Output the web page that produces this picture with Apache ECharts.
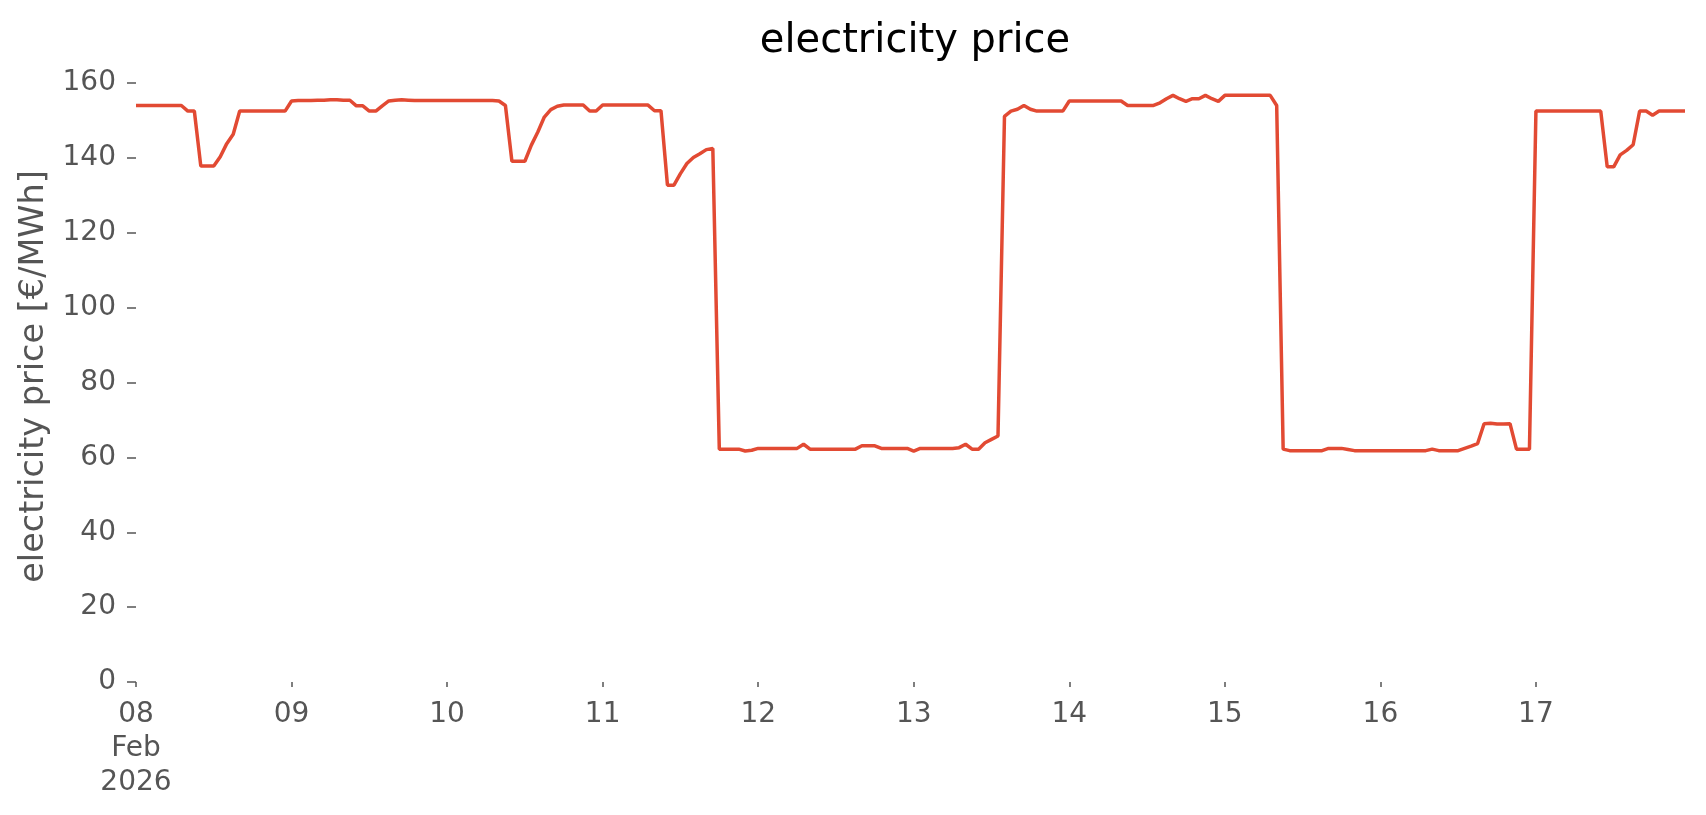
<!DOCTYPE html>
<html>
<head>
<meta charset="utf-8">
<script src="https://cdn.jsdelivr.net/npm/echarts@6/dist/echarts.min.js"></script>
<style>
  html, body { margin: 0; padding: 0; background: #ffffff; }
  #chart { width: 1706px; height: 815px; }
</style>
</head>
<body>
<div id="chart"></div>
<script>
// Hourly electricity price [€/MWh], 08 Feb 2026 00:00 .. 17 Feb 2026 23:00
const day08 = [154,154,154,154,154,154,154,154,152.5,152.5,137.8,137.8,137.8,140.3,143.8,146.3,152.5,152.5,152.5,152.5,152.5,152.5,152.5,152.5];
const day09 = [155.2,155.3,155.3,155.3,155.4,155.4,155.5,155.5,155.4,155.4,153.9,153.9,152.5,152.5,153.9,155.2,155.4,155.5,155.4,155.3,155.3,155.3,155.3,155.3];
const day10 = [155.3,155.3,155.3,155.3,155.3,155.3,155.3,155.3,155.2,154.0,139.1,139.1,139.1,143.4,146.9,150.9,152.9,153.8,154.1,154.1,154.1,154.1,152.5,152.5];
const day11 = [154.1,154.1,154.1,154.1,154.1,154.1,154.1,154.1,152.6,152.6,132.7,132.7,135.8,138.5,140.1,141.1,142.2,142.5,62.2,62.2,62.2,62.2,61.7,61.9];
const day12 = [62.4,62.4,62.4,62.4,62.4,62.4,62.4,63.5,62.2,62.2,62.2,62.2,62.2,62.2,62.2,62.2,63.1,63.1,63.1,62.4,62.4,62.4,62.4,62.4];
const day13 = [61.7,62.4,62.4,62.4,62.4,62.4,62.4,62.6,63.5,62.2,62.2,63.9,64.8,65.7,151.1,152.5,153.0,154.0,153.0,152.5,152.5,152.5,152.5,152.5];
const day14 = [155.2,155.2,155.2,155.2,155.2,155.2,155.2,155.2,155.2,154.0,154.0,154.0,154.0,154.0,154.7,155.8,156.7,155.8,155.1,155.8,155.8,156.7,155.8,155.1];
const day15 = [156.7,156.7,156.7,156.7,156.7,156.7,156.7,156.7,154.0,62.2,61.8,61.8,61.8,61.8,61.8,61.8,62.4,62.4,62.4,62.1,61.8,61.8,61.8,61.8];
const day16 = [61.8,61.8,61.8,61.8,61.8,61.8,61.8,61.8,62.2,61.8,61.8,61.8,61.8,62.4,63.0,63.7,69.0,69.1,68.9,68.9,69.0,62.2,62.2,62.2];
const day17 = [152.5,152.5,152.5,152.5,152.5,152.5,152.5,152.5,152.5,152.5,152.5,137.6,137.6,140.8,142.0,143.5,152.5,152.5,151.4,152.5,152.5,152.5,152.5,152.5];

const dayLabels = ['08\nFeb\n2026','09','10','11','12','13','14','15','16','17'];
const yTicks = [0,20,40,60,80,100,120,140,160];

const prices = [].concat(day08, day09, day10, day11, day12, day13, day14, day15, day16, day17);
const seriesData = prices.map((v, i) => [i, v]);

const chart = echarts.init(document.getElementById('chart'), null, { renderer: 'canvas' });
const FONT = 'DejaVu Sans';
chart.setOption({
  animation: false,
  backgroundColor: '#ffffff',
  title: {
    text: 'electricity price',
    left: 910,
    textAlign: 'center',
    top: 17,
    textStyle: { fontFamily: FONT, fontSize: 40, fontWeight: 'normal', color: '#000000' }
  },
  grid: { left: 136, right: 21, top: 83, bottom: 133, containLabel: false },
  xAxis: {
    type: 'value',
    min: 0,
    max: prices.length - 1,
    interval: 24,
    axisLine: { show: false },
    splitLine: { show: false },
    axisTick: { show: true, length: 5, lineStyle: { color: '#555555', width: 1.5 } },
    axisLabel: {
      margin: 16,
      color: '#555555',
      fontFamily: FONT,
      fontSize: 28,
      lineHeight: 34,
      showMaxLabel: false,
      formatter: function (v) {
        if (v % 24 !== 0) return '';
        const d = Math.round(v / 24);
        return dayLabels[d] !== undefined ? dayLabels[d] : '';
      }
    }
  },
  yAxis: {
    type: 'value',
    min: yTicks[0],
    max: yTicks[yTicks.length - 1],
    interval: 20,
    name: 'electricity price [€/MWh]',
    nameLocation: 'middle',
    nameGap: 84,
    nameTextStyle: { fontFamily: FONT, fontSize: 33.5, color: '#555555', padding: [0, 0, 0, 12] },
    axisLine: { show: false },
    splitLine: { show: false },
    axisTick: { show: true, length: 9, lineStyle: { color: '#555555', width: 1.5 } },
    axisLabel: { margin: 20, color: '#555555', fontFamily: FONT, fontSize: 28 }
  },
  series: [{
    type: 'line',
    data: seriesData,
    showSymbol: false,
    symbol: 'none',
    lineStyle: { color: '#E24A33', width: 3.5 },
    itemStyle: { color: '#E24A33' }
  }]
});
</script>
</body>
</html>
